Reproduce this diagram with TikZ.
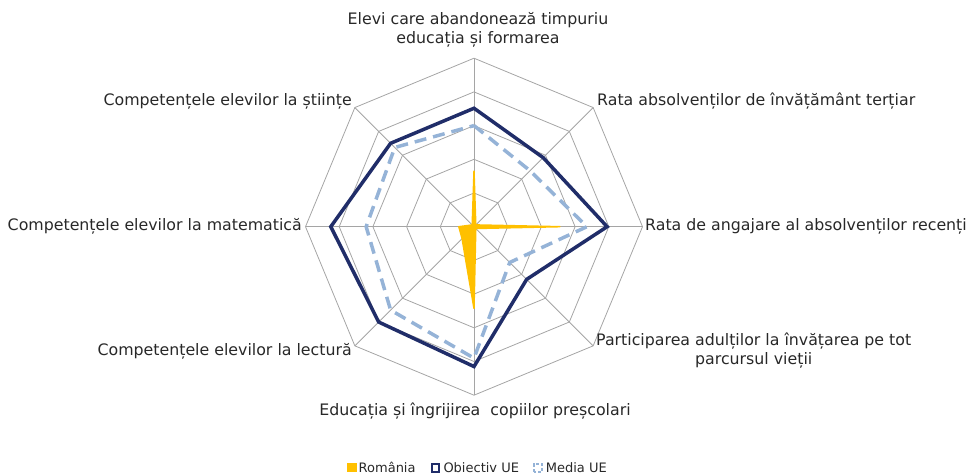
\documentclass[tikz,border=0pt]{standalone}
\usepackage{fontspec}
\setmainfont{DejaVu Sans}
\usetikzlibrary{calc}
\definecolor{navy}{RGB}{32,45,105}
\definecolor{lblue}{RGB}{149,179,215}
\definecolor{gold}{RGB}{255,192,0}
\definecolor{gridgray}{RGB}{165,165,165}
\definecolor{txt}{RGB}{40,40,40}
\begin{document}
\begin{tikzpicture}[x=1pt,y=1pt,
  lbl/.style={font=\fontsize{15.8}{19.5}\selectfont, text=txt, inner sep=0pt},
  leg/.style={font=\fontsize{13}{15}\selectfont, text=txt, inner sep=0pt, anchor=west},
  gridline/.style={draw=gridgray, line width=0.8pt},
  obj/.style={draw=navy, line width=3.5pt, line join=miter},
  med/.style={draw=lblue, line width=3.5pt, dash pattern=on 12pt off 7pt},
  rom/.style={fill=gold, draw=gold, line width=1.5pt, line join=round}]
\useasboundingbox (0,0) rectangle (969,475);
\coordinate (C) at (474,248.3);
\def\R{168.5}
% grid
\foreach \j in {1,...,5}{
  \foreach \k in {0,...,7}{ \coordinate (g\j\k) at ($(C)+({90-45*\k}:{\j*33.7})$); }
  \draw[gridline] (g\j0) -- (g\j1) -- (g\j2) -- (g\j3) -- (g\j4) -- (g\j5) -- (g\j6) -- (g\j7) -- cycle;
}
\foreach \k in {0,...,7}{ \draw[gridline] (C) -- (g5\k); }
% data
\foreach \k/\v in {0/0.703,1/0.58,2/0.79,3/0.442,4/0.83,5/0.80,6/0.85,7/0.70}{
  \coordinate (o\k) at ($(C)+({90-45*\k}:{\v*\R})$); }
\foreach \k/\v in {0/0.60,1/0.47,2/0.67,3/0.30,4/0.78,5/0.70,6/0.64,7/0.665}{
  \coordinate (m\k) at ($(C)+({90-45*\k}:{\v*\R})$); }
\foreach \k/\v in {0/0.33,1/0.015,2/0.51,3/0.015,4/0.485,5/0.10,6/0.09,7/0.015}{
  \coordinate (r\k) at ($(C)+({90-45*\k}:{\v*\R})$); }
\filldraw[rom] (r0) -- (r1) -- (r2) -- (r3) -- (r4) -- (r5) -- (r6) -- (r7) -- cycle;
\draw[obj] (o0) -- (o1) -- (o2) -- (o3) -- (o4) -- (o5) -- (o6) -- (o7) -- cycle;
\draw[med] (m0) -- (m1) -- (m2) -- (m3) -- (m4) -- (m5) -- (m6) -- (m7) -- cycle;
% labels
\node[lbl, align=center] (l0) at (478,445) {Elevi care abandonează timpuriu\\educația și formarea};
\node[lbl, anchor=west] (l1) at (597,374) {Rata absolvenților de învățământ terțiar};
\node[lbl, anchor=west] (l2) at (645,248.5) {Rata de angajare al absolvenților recenți};
\node[lbl, anchor=west, align=center] (l3) at (596,124.2) {Participarea adulților la învățarea pe tot\\parcursul vieții};
\node[lbl] (l4) at (475,63.5) {Educația și îngrijirea~ copiilor preșcolari};
\node[lbl, anchor=east] (l5) at (352,123.3) {Competențele elevilor la lectură};
\node[lbl, anchor=east] (l6) at (302,249) {Competențele elevilor la matematică};
\node[lbl, anchor=east] (l7) at (352,374) {Competențele elevilor la științe};
% legend
\fill[gold] (347,2.8) rectangle (356.5,12.3);
\node[leg] (lr) at (358.5,7.5) {România};
\draw[navy, line width=2pt] (431.7,3.5) rectangle (439,11.3);
\node[leg] (lo) at (443.3,7.5) {Obiectiv UE};
\draw[lblue, line width=2pt, dash pattern=on 3pt off 2pt] (534,3.5) rectangle (542,11.3);
\node[leg] (lm) at (545.7,7.5) {Media UE};
\end{tikzpicture}
\end{document}
